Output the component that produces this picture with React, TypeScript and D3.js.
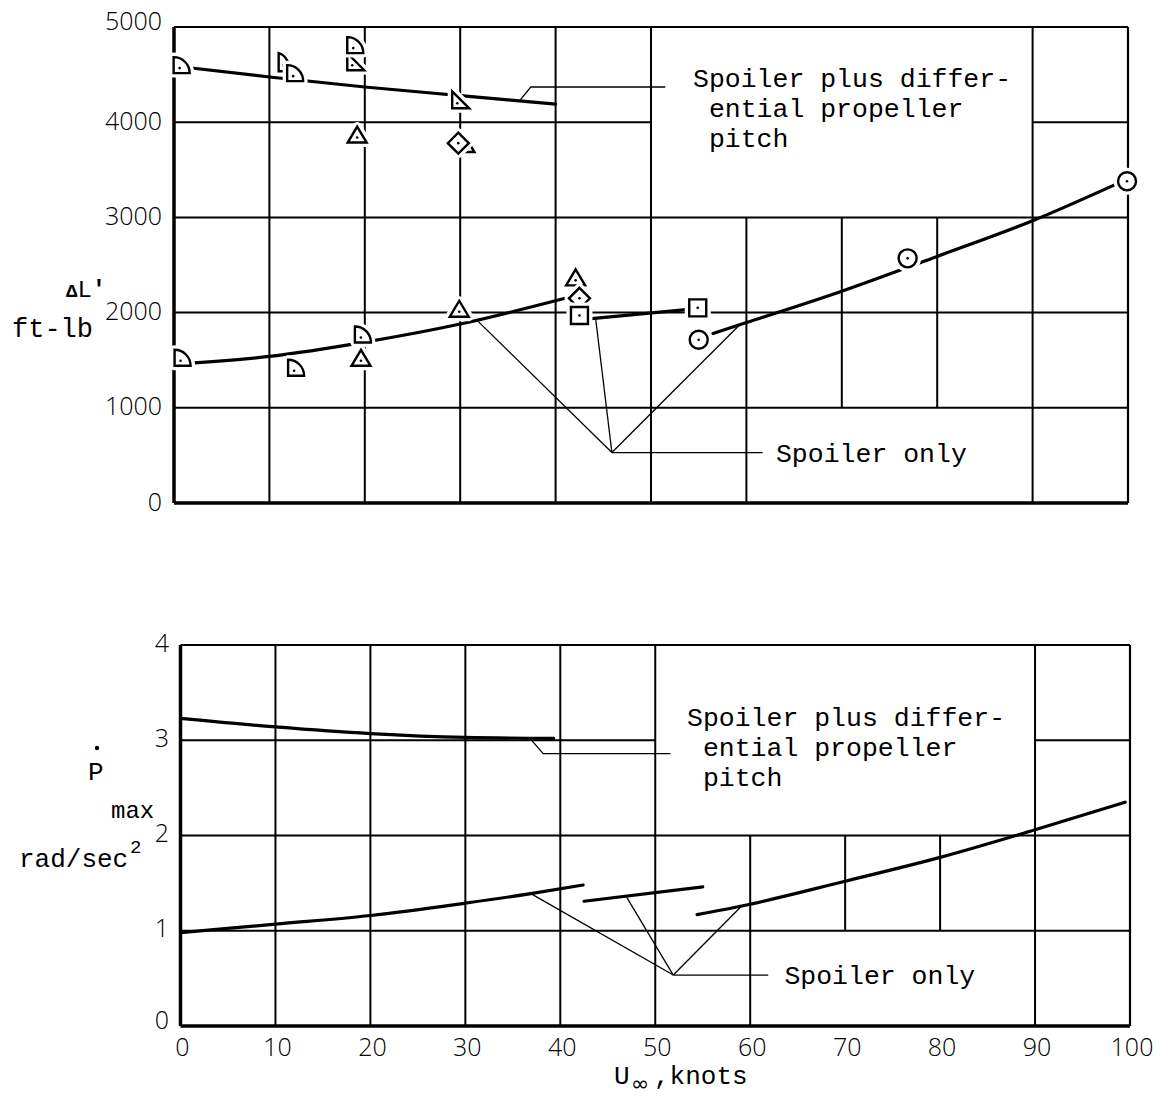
import React from 'react';
import * as d3 from 'd3';

// ---------- data ----------
const xTicks = [0, 10, 20, 30, 40, 50, 60, 70, 80, 90, 100];
const topYTicks = [0, 1000, 2000, 3000, 4000, 5000];
const botYTicks = [0, 1, 2, 3, 4];

// Top panel: ΔL', ft-lb vs U∞ (knots)
const topPlusCurve: [number, number][] = [[0, 4590], [10, 4475], [20, 4370], [30, 4280], [40, 4190]];
const topOnlyCurveA: [number, number][] = [[0.5, 1460], [10, 1540], [20, 1690], [30, 1880], [41, 2150]];
const topOnlyCurveB: [number, number][] = [[43.5, 1935], [54.5, 2040]];
const topOnlyCurveC: [number, number][] = [[56.5, 1780], [60, 1895], [70, 2225], [80, 2590], [90, 2965], [99, 3360]];

const quarterCirclePts: [number, number][] = [[11.6, 4620]];
const rightTrianglePts: [number, number][] = [[19, 4630], [30, 4230]];
const flagCirclePts: [number, number][] = [[0.8, 4600], [12.7, 4515], [19, 4810], [0.9, 1525], [12.8, 1420], [19.8, 1770]];
const trianglePts: [number, number][] = [[19.2, 3860], [30.5, 3760], [19.6, 1515], [29.9, 2030], [42.1, 2360]];
const diamondPts: [number, number][] = [[29.8, 3780], [42.5, 2150]];
const squarePts: [number, number][] = [[42.5, 1970], [54.9, 2050]];
const circlePts: [number, number][] = [[55, 1715], [76.9, 2570], [99.9, 3380]];

// Bottom panel: P-dot max, rad/sec^2 vs U∞ (knots)
const botPlusCurve: [number, number][] = [[0, 3.23], [10, 3.14], [20, 3.07], [30, 3.03], [39.3, 3.02]];
const botOnlyCurveA: [number, number][] = [[0, 0.98], [10, 1.07], [20, 1.16], [30, 1.29], [36.9, 1.39], [42.4, 1.48]];
const botOnlyCurveB: [number, number][] = [[42.5, 1.31], [55, 1.46]];
const botOnlyCurveC: [number, number][] = [[54.4, 1.17], [59.1, 1.26], [70, 1.52], [80, 1.77], [90, 2.06], [99.5, 2.35]];

// annotation anchors (data units)
const topPlusLeader: [number, number][] = [[36.3, 4235], [37.4, 4370], [51.5, 4370]];
const topOnlyVertex: [number, number] = [45.9, 530];
const topOnlyTargets: [number, number][] = [[31.8, 1916], [44.2, 1935], [59.3, 1872]];
const topOnlyTail: [number, number] = [61.7, 530];
const botPlusLeader: [number, number][] = [[36.8, 3.02], [38.2, 2.86], [51.6, 2.86]];
const botOnlyVertex: [number, number] = [51.9, 0.535];
const botOnlyTargets: [number, number][] = [[36.9, 1.39], [47, 1.35], [59.1, 1.26]];
const botOnlyTail: [number, number] = [61.9, 0.535];

const plusLabel = ['Spoiler plus differ-', ' ential propeller', ' pitch'];
const onlyLabel = 'Spoiler only';

// ---------- layout ----------
const W = 1165;
const H = 1097;
const xT = d3.scaleLinear().domain([0, 100]).range([174, 1128]);
const yT = d3.scaleLinear().domain([0, 5000]).range([503, 27]);
const xB = d3.scaleLinear().domain([0, 100]).range([180.5, 1130]);
const yB = d3.scaleLinear().domain([0, 4]).range([1026, 645]);

const MONO = '"Liberation Mono", "DejaVu Sans Mono", monospace';
const NUM = '"Open Sans", "DejaVu Sans", sans-serif';

type Seg = [number, number, number, number]; // x1,y1,x2,y2 in data units

// grid with a text box between levels boxLo..top over 50..90 knots,
// and a label box between 0..a over 60..90 knots
function gridSegs(levels: number[], top: number, boxLo: number, a: number): Seg[] {
  const s: Seg[] = [];
  [10, 20, 30, 40, 50, 90].forEach((x) => s.push([x, 0, x, top]));
  s.push([60, 0, 60, boxLo]);
  [70, 80].forEach((x) => s.push([x, a, x, boxLo]));
  levels.forEach((y) => {
    if (y > boxLo) {
      s.push([0, y, 50, y]);
      s.push([90, y, 100, y]);
    } else {
      s.push([0, y, 100, y]);
    }
  });
  return s;
}

const markerPaths: Record<string, string> = {
  flag: 'M-8,8 L-8,-8 A16,16 0 0 1 8,8 Z',
  quarter: 'M-6,8 L-6,-10 A14,18 0 0 1 5,8 Z',
  rtri: 'M-8,8 L-8,-9 L9,8 Z',
  tri: 'M0,-9 L9.5,7 L-9.5,7 Z',
  diamond: 'M0,-10.5 L10.5,0 L0,10.5 L-10.5,0 Z',
  square: 'M-8.5,-8.5 L8.5,-8.5 L8.5,8.5 L-8.5,8.5 Z',
};
const dotOffset: Record<string, [number, number]> = {
  flag: [-2, 3],
  quarter: [-1, 2],
  rtri: [-3, 3],
  tri: [0, 2],
  diamond: [0, 0],
  square: [0, 0],
  circle: [0, 0],
};

function Marker({ kind, x, y }: { kind: string; x: number; y: number }) {
  const shape = (props: any) =>
    kind === 'circle' ? <circle r={9} {...props} /> : <path d={markerPaths[kind]} {...props} />;
  const [dx, dy] = dotOffset[kind];
  return (
    <g transform={`translate(${x},${y})`}>
      {shape({ fill: 'white', stroke: 'white', strokeWidth: 9, strokeLinejoin: 'round' })}
      {shape({ fill: 'white', stroke: 'black', strokeWidth: 2.4, strokeLinejoin: 'miter' })}
      <circle cx={dx} cy={dy} r={1.3} fill="black" />
    </g>
  );
}

export default function App() {
  const lineT = d3
    .line<[number, number]>()
    .x((d) => xT(d[0]))
    .y((d) => yT(d[1]))
    .curve(d3.curveMonotoneX);
  const lineB = d3
    .line<[number, number]>()
    .x((d) => xB(d[0]))
    .y((d) => yB(d[1]))
    .curve(d3.curveMonotoneX);
  const polyT = d3.line<[number, number]>().x((d) => xT(d[0])).y((d) => yT(d[1]));
  const polyB = d3.line<[number, number]>().x((d) => xB(d[0])).y((d) => yB(d[1]));

  const topGrid = gridSegs([1000, 2000, 3000, 4000], 5000, 3000, 1000);
  const botGrid = gridSegs([1, 2, 3], 4, 2, 1);

  const markerGroups: [string, [number, number][]][] = [
    ['quarter', quarterCirclePts],
    ['rtri', rightTrianglePts],
    ['flag', flagCirclePts],
    ['tri', trianglePts],
    ['diamond', diamondPts],
    ['square', squarePts],
    ['circle', circlePts],
  ];

  return (
    <svg
      width={W}
      height={H}
      viewBox={`0 0 ${W} ${H}`}
      style={{ position: 'absolute', left: 0, top: 0, background: 'white' }}
    >
      <rect x={0} y={0} width={W} height={H} fill="white" />

      {/* ---------------- TOP PANEL ---------------- */}
      <g>
        {topGrid.map((s, i) => (
          <line
            key={i}
            x1={xT(s[0])}
            y1={yT(s[1])}
            x2={xT(s[2])}
            y2={yT(s[3])}
            stroke="black"
            strokeWidth={2}
          />
        ))}
        {/* frame */}
        <line x1={xT(0)} y1={yT(5000)} x2={xT(100)} y2={yT(5000)} stroke="black" strokeWidth={2.2} />
        <line x1={xT(100)} y1={yT(5000)} x2={xT(100)} y2={yT(0)} stroke="black" strokeWidth={2.2} />
        <line x1={xT(0)} y1={yT(0)} x2={xT(100)} y2={yT(0)} stroke="black" strokeWidth={3.5} />
        <line x1={xT(0)} y1={yT(5000)} x2={xT(0)} y2={yT(0)} stroke="black" strokeWidth={3.5} />

        {/* y tick labels */}
        {topYTicks.map((t) => (
          <text
            key={t}
            x={162}
            y={yT(t) + (t === 5000 ? -4 : 1)}
            textAnchor="end"
            dominantBaseline="middle"
            fontFamily={NUM}
            fontWeight={300}
            fontSize={25}
          >
            {t}
          </text>
        ))}

        {/* y axis title */}
        <text x={66} y={297} fontFamily={MONO} fontSize={24}>
          <tspan fontWeight="bold" fontSize={19}>Δ</tspan>
          <tspan>L</tspan>
          <tspan fontWeight="bold">'</tspan>
        </text>
        <text x={12} y={337} fontFamily={MONO} fontSize={27}>
          ft-lb
        </text>

        {/* curves */}
        {[topPlusCurve, topOnlyCurveA, topOnlyCurveB, topOnlyCurveC].map((c, i) => (
          <path key={i} d={lineT(c) || ''} fill="none" stroke="black" strokeWidth={3.2} strokeLinecap="round" />
        ))}

        {/* leaders */}
        <path d={polyT(topPlusLeader) || ''} fill="none" stroke="black" strokeWidth={1.3} />
        {topOnlyTargets.map((t, i) => (
          <path key={i} d={polyT([topOnlyVertex, t]) || ''} fill="none" stroke="black" strokeWidth={1.3} />
        ))}
        <path d={polyT([topOnlyVertex, topOnlyTail]) || ''} fill="none" stroke="black" strokeWidth={1.3} />

        {/* markers */}
        {markerGroups.map(([kind, pts]) =>
          pts.map((p, i) => <Marker key={kind + i} kind={kind} x={xT(p[0])} y={yT(p[1])} />)
        )}

        {/* labels */}
        {plusLabel.map((s, i) => (
          <text
            key={i}
            x={693}
            y={87 + i * 30}
            fontFamily={MONO}
            fontSize={26.5}
            style={{ whiteSpace: 'pre' }}
            xmlSpace="preserve"
          >
            {s}
          </text>
        ))}
        <text x={xT(63.1)} y={yT(topOnlyTail[1]) + 9} fontFamily={MONO} fontSize={26.5}>
          {onlyLabel}
        </text>
      </g>

      {/* ---------------- BOTTOM PANEL ---------------- */}
      <g>
        {botGrid.map((s, i) => (
          <line
            key={i}
            x1={xB(s[0])}
            y1={yB(s[1])}
            x2={xB(s[2])}
            y2={yB(s[3])}
            stroke="black"
            strokeWidth={2}
          />
        ))}
        <line x1={xB(0)} y1={yB(4)} x2={xB(100)} y2={yB(4)} stroke="black" strokeWidth={2.2} />
        <line x1={xB(100)} y1={yB(4)} x2={xB(100)} y2={yB(0)} stroke="black" strokeWidth={2.2} />
        <line x1={xB(0)} y1={yB(0)} x2={xB(100)} y2={yB(0)} stroke="black" strokeWidth={3.5} />
        <line x1={xB(0)} y1={yB(4)} x2={xB(0)} y2={yB(0)} stroke="black" strokeWidth={3.5} />

        {botYTicks.map((t) => (
          <text
            key={t}
            x={169}
            y={yB(t) + (t === 0 ? -4 : 0)}
            textAnchor="end"
            dominantBaseline="middle"
            fontFamily={NUM}
            fontWeight={300}
            fontSize={25}
          >
            {t}
          </text>
        ))}
        {xTicks.map((t) => (
          <text
            key={t}
            x={xB(t) + 2}
            y={1049}
            textAnchor="middle"
            dominantBaseline="middle"
            fontFamily={NUM}
            fontWeight={300}
            fontSize={25}
          >
            {t}
          </text>
        ))}

        {/* y axis title */}
        <circle cx={97} cy={748} r={2.2} fill="black" />
        <text x={88} y={780} fontFamily={MONO} fontSize={26}>
          P
        </text>
        <text x={111} y={818} fontFamily={MONO} fontSize={24}>
          max
        </text>
        <text x={19} y={867} fontFamily={MONO} fontSize={26}>
          rad/sec
        </text>
        <text x={130} y={853} fontFamily={MONO} fontSize={19}>
          2
        </text>

        {/* x axis title */}
        <text x={614} y={1084} fontFamily={MONO} fontSize={26}>
          U
        </text>
        <text x={631} y={1091} fontFamily={'"DejaVu Sans", sans-serif'} fontSize={22}>
          ∞
        </text>
        <text x={654} y={1084} fontFamily={MONO} fontSize={26}>
          ,knots
        </text>

        {/* curves */}
        {[botPlusCurve, botOnlyCurveA, botOnlyCurveB, botOnlyCurveC].map((c, i) => (
          <path key={i} d={lineB(c) || ''} fill="none" stroke="black" strokeWidth={3.2} strokeLinecap="round" />
        ))}

        {/* leaders */}
        <path d={polyB(botPlusLeader) || ''} fill="none" stroke="black" strokeWidth={1.3} />
        {botOnlyTargets.map((t, i) => (
          <path key={i} d={polyB([botOnlyVertex, t]) || ''} fill="none" stroke="black" strokeWidth={1.3} />
        ))}
        <path d={polyB([botOnlyVertex, botOnlyTail]) || ''} fill="none" stroke="black" strokeWidth={1.3} />

        {plusLabel.map((s, i) => (
          <text
            key={i}
            x={687}
            y={726 + i * 30}
            fontFamily={MONO}
            fontSize={26.5}
            style={{ whiteSpace: 'pre' }}
            xmlSpace="preserve"
          >
            {s}
          </text>
        ))}
        <text x={xB(63.6)} y={yB(botOnlyTail[1]) + 9} fontFamily={MONO} fontSize={26.5}>
          {onlyLabel}
        </text>
      </g>
    </svg>
  );
}
